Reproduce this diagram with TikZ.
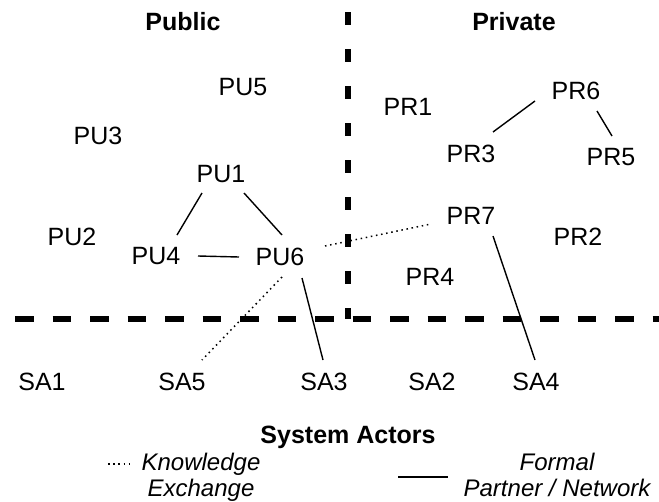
\documentclass[tikz,border=0pt]{standalone}
\usepackage{fontspec}
\setmainfont{Liberation Sans}
\usepackage{tikz}

\begin{document}
\begin{tikzpicture}[x=1pt,y=-1pt,
  actor/.style={inner sep=0,font=\fontsize{25}{26}\selectfont},
  sector/.style={actor,font=\fontsize{25}{26}\selectfont\bfseries},
  legend/.style={actor,align=center,font=\fontsize{24}{26}\selectfont\itshape},
  partner/.style={line width=1.4pt},
  exchange/.style={line width=1.5pt,dash pattern=on 1.5pt off 3.7pt},
  divide/.style={line width=6pt}]
\useasboundingbox (0,0) rectangle (659,501);

% Dividers
\draw[divide,dash pattern=on 13pt off 24pt] (348,12) -- (348,319);
\draw[divide,dash pattern=on 18.5pt off 19pt] (15,319) -- (659,319);

% Sector titles
\node[sector] (public) at (183,22) {Public};
\node[sector] (private) at (514,22) {Private};
\node[sector,anchor=base] (system) at (348,443) {System Actors};

% Public actors
\node[actor] (pu5) at (243,87) {PU5};
\node[actor] (pu3) at (98,136) {PU3};
\node[actor] (pu1) at (221,174) {PU1};
\node[actor] (pu2) at (72,237) {PU2};
\node[actor] (pu4) at (156,256) {PU4};
\node[actor] (pu6) at (280,257) {PU6};

% Private actors
\node[actor] (pr1) at (408,107) {PR1};
\node[actor] (pr6) at (576,91) {PR6};
\node[actor] (pr3) at (471,154) {PR3};
\node[actor] (pr5) at (611,157) {PR5};
\node[actor] (pr7) at (471,216) {PR7};
\node[actor] (pr2) at (578,237) {PR2};
\node[actor] (pr4) at (430,277) {PR4};

% System actors
\node[actor] (sa1) at (42,382) {SA1};
\node[actor] (sa5) at (182,382) {SA5};
\node[actor] (sa3) at (324,382) {SA3};
\node[actor] (sa2) at (432,382) {SA2};
\node[actor] (sa4) at (536,382) {SA4};

% Legend
\node[legend,anchor=base] (knowtxt) at (201,496) {Knowledge\\Exchange};
\node[legend,anchor=base] (formtxt) at (557,496) {Formal\\Partner / Network};
\coordinate (k1) at (108,464);
\coordinate (k2) at (133,464);
\coordinate (f1) at (398,477);
\coordinate (f2) at (448,477);
\path (k1) edge[exchange] (k2);
\path (f1) edge[partner] (f2);

%links
\path ([shift={(-19,19)}]pu1.center) edge[partner] ([shift={(21,-21)}]pu4.center);
\path ([shift={(23,19)}]pu1.center) edge[partner] ([shift={(2,-22)}]pu6.center);
\path ([shift={(42,0)}]pu4.center) edge[partner] ([shift={(-41,0)}]pu6.center);
\path ([shift={(22,21)}]pu6.center) edge[partner] ([shift={(-1,-22)}]sa3.center);
\path ([shift={(22,20)}]pr7.center) edge[partner] ([shift={(-1,-22)}]sa4.center);
\path ([shift={(-41,10)}]pr6.center) edge[partner] ([shift={(22,-22)}]pr3.center);
\path ([shift={(21,20)}]pr6.center) edge[partner] ([shift={(1,-21)}]pr5.center);

\path ([shift={(45,-11)}]pu6.center) edge[exchange] ([shift={(-40,8)}]pr7.center);
\path ([shift={(2,20)}]pu6.center) edge[exchange] ([shift={(20,-22)}]sa5.center);

\end{tikzpicture}
\end{document}
